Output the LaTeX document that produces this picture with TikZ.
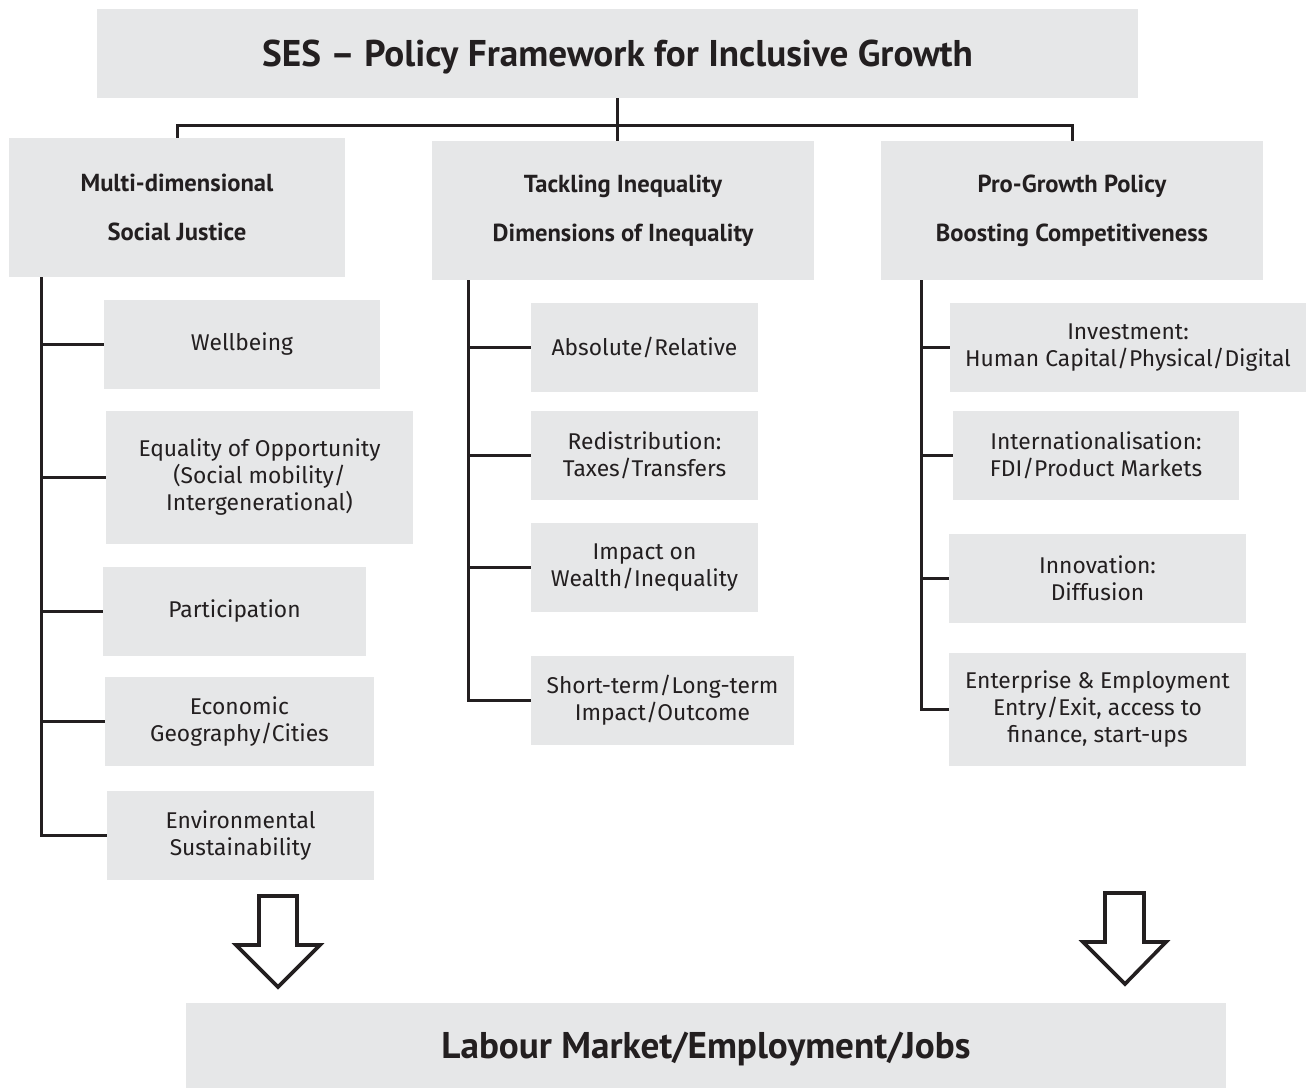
\documentclass[tikz,border=0pt]{standalone}
\usepackage{fontspec}
\setmainfont{Fira Sans}
\newfontfamily\headfont{PT Sans}
\definecolor{boxgray}{HTML}{E6E7E8}
\definecolor{inkgray}{HTML}{231F20}

\begin{document}
\begin{tikzpicture}[
  x=0.5pt,
  y=-0.5pt,
  box/.style={
    fill=boxgray,
    text=inkgray,
    inner sep=0pt,
    align=center,
    font=\fontsize{11.4}{13.5}\selectfont
  },
  dims/.style 2 args={
    minimum width={#1*0.5pt},
    minimum height={#2*0.5pt}
  },
  head box/.style={
    box,
    font=\headfont\bfseries\fontsize{12.3}{24.5}\selectfont
  },
  big box/.style={
    box,
    text depth=0pt,
    font=\headfont\bfseries\fontsize{18.6}{20}\selectfont
  },
  link/.style={
    draw=inkgray,
    line width=1.5pt
  },
  hollow arrow/.style={
    draw=inkgray,
    fill=white,
    line width=1.8pt,
    line join=miter
  },
]
\useasboundingbox (0,0) rectangle (1306,1088);

\node[big box, dims={1041}{89}] (title) at (617.5,53.5) {SES – Policy Framework for Inclusive Growth};

\node[head box, dims={336}{139}] (justice) at (177,207.5) {Multi-dimensional\\Social Justice};
\node[head box, dims={382}{139}] (inequality) at (623,210.5) {Tackling Inequality\\Dimensions of Inequality};
\node[head box, dims={382}{139}] (growth) at (1072,210.5) {Pro-Growth Policy\\Boosting Competitiveness};

\node[box, dims={276}{89}] (well) at (242,344.5) {Wellbeing};
\node[box, dims={307}{133}] (equal) at (259.5,477.5) {Equality of Opportunity\\(Social mobility/\\Intergenerational)};
\node[box, dims={263}{89}] (part) at (234.5,611.5) {Participation};
\node[box, dims={269}{89}] (geo) at (239.5,721.5) {Economic\\Geography/Cities};
\node[box, dims={267}{89}] (env) at (240.5,835.5) {Environmental\\Sustainability};

\node[box, dims={227}{89}] (absolute) at (644.5,347.5) {Absolute/Relative};
\node[box, dims={227}{89}] (redist) at (644.5,455.5) {Redistribution:\\Taxes/Transfers};
\node[box, dims={227}{89}] (impact) at (644.5,567.5) {Impact on\\Wealth/Inequality};
\node[box, dims={263}{89}] (term) at (662.5,700.5) {Short-term/Long-term\\Impact/Outcome};

\node[box, dims={356}{89}] (invest) at (1128,347.5) {Investment:\\Human Capital/Physical/Digital};
\node[box, dims={286}{89}] (intl) at (1096,455.5) {Internationalisation:\\FDI/Product Markets};
\node[box, dims={297}{89}] (innov) at (1097.5,578.5) {Innovation:\\Diffusion};
\node[box, dims={297}{113}] (enterprise) at (1097.5,709.5) {Enterprise \& Employment\\Entry/Exit, access to\\finance, start-ups};

\node[big box, dims={1040}{85}] (labour) at (706,1045.5) {Labour Market/Employment/Jobs};

\draw[link] (title.south) -- (title.south |- inequality.north);
\draw[link] (justice.north) -- ++(0,-12) -| (growth.north);

\coordinate (trunk a) at ([xshift=16.5pt]justice.south west);
\coordinate (trunk b) at ([xshift=18.5pt]inequality.south west);
\coordinate (trunk c) at ([xshift=20.5pt]growth.south west);

\draw[link] (trunk a) |- (env.west);
\foreach \n in {well,equal,part,geo}
  \draw[link] (trunk a |- \n.west) -- (\n.west);
\draw[link] (trunk b) |- (term.west);
\foreach \n in {absolute,redist,impact}
  \draw[link] (trunk b |- \n.west) -- (\n.west);
\draw[link] (trunk c) |- (enterprise.west);
\foreach \n in {invest,intl,innov}
  \draw[link] (trunk c |- \n.west) -- (\n.west);

\draw[hollow arrow] (259,896) -- (297,896) -- (297,945) -- (320,945) -- (278,987) -- (236,945) -- (259,945) -- cycle;
\draw[hollow arrow] (1105,893) -- (1144,893) -- (1144,942) -- (1166,942) -- (1125,984) -- (1083,942) -- (1105,942) -- cycle;
\end{tikzpicture}
\end{document}
